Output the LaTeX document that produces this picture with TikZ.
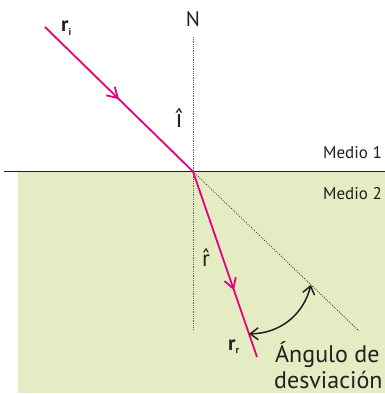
\documentclass[tikz,border=0pt]{standalone}
\usepackage{fontspec}
\setmainfont{PT Sans}
\usetikzlibrary{arrows.meta,decorations.markings,calc}
\definecolor{raycol}{RGB}{230,0,126}
\definecolor{medio}{RGB}{227,236,194}
\definecolor{txt}{RGB}{35,31,32}
\tikzset{
  raybarb/.tip={Straight Barb[length=10pt,width=12pt]},
  anglebarb/.tip={Straight Barb[length=8pt,width=12pt]},
  lightray/.style={draw=raycol,line width=1.8pt},
  midarrow/.style={decoration={markings,mark=at position #1 with {\arrow{raybarb}}},postaction=decorate},
  normalline/.style={draw=black!60,line width=1pt,dash pattern=on 0.9pt off 0.9pt},
  extline/.style={draw=txt,line width=0.8pt,dash pattern=on 0.8pt off 1.5pt},
  lbl/.style={text=txt,inner sep=0pt},
}
\begin{document}
\begin{tikzpicture}[x=1pt,y=-1pt]
\useasboundingbox (0,0) rectangle (385,394);
\fill[medio] (18,172) rectangle (385,393);
\coordinate (L) at (4,171.5);
\coordinate (R) at (385,171.5);
\draw[txt,line width=1.1pt] (L) -- (R);
\coordinate (O) at (193,171.5);
\coordinate (Ntop) at (193,37);
\coordinate (Nbot) at (193,329);
\coordinate (S) at (45,27);
\coordinate (E) at (257,357);
\coordinate (D) at (359,331);
\draw[normalline] (Ntop) -- (Nbot);
\draw[extline] (O) -- (D);
\draw[lightray,midarrow=0.5] (S) -- (O);
\draw[lightray,midarrow=0.64] (O) -- (E);
\coordinate (A1) at ($(O)!0.875!(E)$);
\coordinate (A2) at ($(O)!0.71!(D)$);
\draw[txt,line width=1.5pt,{anglebarb}-{anglebarb}] (A1) to[bend right=38] (A2);
\node[lbl,anchor=base,font=\fontsize{21}{21}\selectfont] (N) at (193,26) {N};
\node[lbl,anchor=base west,font=\fontsize{21}{21}\selectfont] (ri) at (61,31) {\textbf{r}\raisebox{-4pt}{\fontsize{10}{10}\selectfont\textbf{i}}};
\node[lbl,anchor=base,font=\fontsize{26}{26}\selectfont] (ih) at (179,127) {î};
\node[lbl,anchor=base,font=\fontsize{23}{23}\selectfont] (rh) at (206,266) {\ooalign{r\cr\hidewidth\raisebox{1pt}{ˆ}\hidewidth}};
\node[lbl,anchor=base west,font=\fontsize{21}{21}\selectfont] (rr) at (228,350) {\textbf{r}\raisebox{-3pt}{\fontsize{10}{10}\selectfont\textbf{r}}};
\node[lbl,anchor=base east,font=\fontsize{17}{17}\selectfont] (m1) at (382,158) {Medio 1};
\node[lbl,anchor=base east,font=\fontsize{17}{17}\selectfont] (m2) at (382,199) {Medio 2};
\node[lbl,anchor=base west,font=\fontsize{24}{24}\selectfont] (ang1) at (275,362) {Ángulo de};
\node[lbl,anchor=base west,font=\fontsize{24}{24}\selectfont] (ang2) at (274,388) {desviación};
\end{tikzpicture}
\end{document}
